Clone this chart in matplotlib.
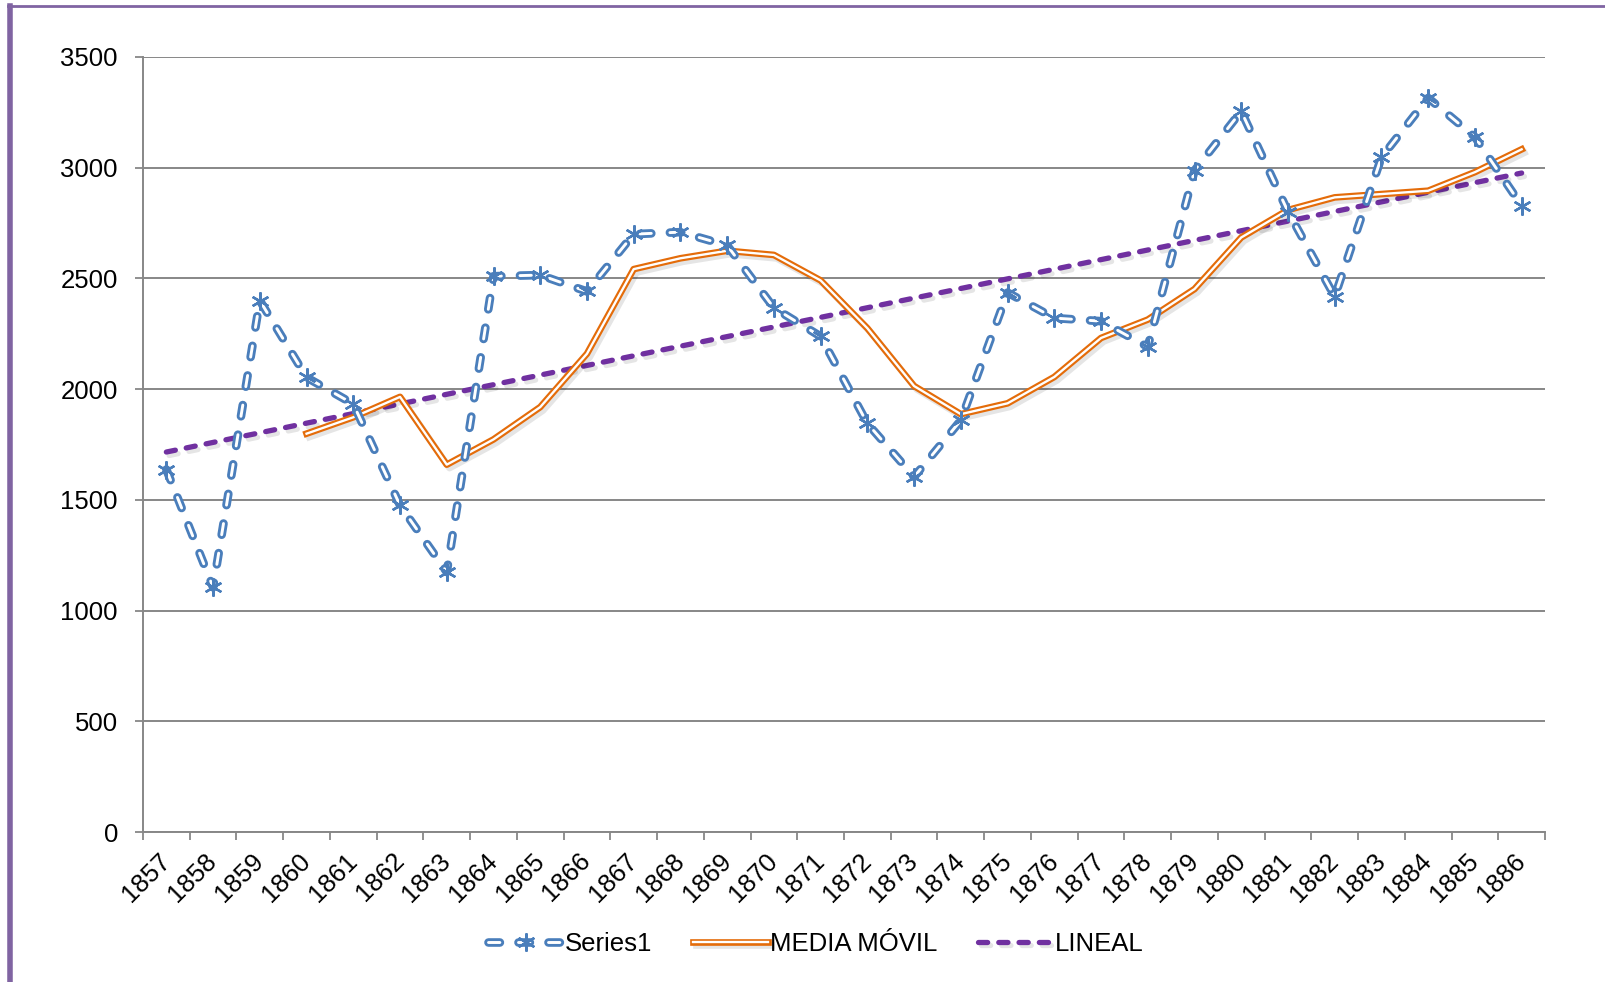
import matplotlib.pyplot as plt
import matplotlib.patheffects as pe
from matplotlib.legend_handler import HandlerTuple
from matplotlib.lines import Line2D

plt.rcParams["font.family"] = ["Liberation Sans", "DejaVu Sans"]
plt.rcParams["lines.scale_dashes"] = False

YEARS = [str(y) for y in range(1857, 1887)]

# values
SERIES1 = [1637, 1105, 2400, 2053, 1933, 1475, 1174, 2510, 2515, 2441,
           2700, 2709, 2649, 2367, 2238, 1845, 1604, 1859, 2436, 2321,
           2307, 2191, 2987, 3255, 2802, 2418, 3047, 3315, 3139, 2829]

# 4-period moving average, starts at 1860
MEDIA_MOVIL = [1799, 1873, 1965, 1659, 1773, 1919, 2160, 2542, 2591, 2625,
               2606, 2491, 2275, 2014, 1887, 1936, 2055, 2231, 2314, 2452,
               2685, 2809, 2866, 2881, 2896, 2980, 3083]

# linear trend end points (1857, 1886)
LINEAL = [1716, 2976]

BLUE = "#4A7EBB"
ORANGE = "#E46C0A"
PURPLE = "#7030A0"
GRID = "#878787"

W, H = 1606, 982
fig = plt.figure(figsize=(W / 100, H / 100), dpi=100)
ax = fig.add_axes([143 / W, 1 - 832 / H, (1545 - 143) / W, (832 - 57) / H])

x = list(range(len(YEARS)))
x_ma = x[3:]
x_tr = [x[0], x[-1]]

shadow = [pe.SimpleLineShadow(offset=(2, -2.5), shadow_color="k", alpha=0.1), pe.Normal()]

# linear trend
tr, = ax.plot(x_tr, LINEAL, color=PURPLE, lw=3.8, dashes=(6.6, 8),
              dash_capstyle="round", path_effects=shadow, zorder=3)

# moving average (double line)
ma_out, = ax.plot(x_ma, MEDIA_MOVIL, color=ORANGE, lw=4.8,
                  path_effects=shadow, zorder=4)
ma_in, = ax.plot(x_ma, MEDIA_MOVIL, color="white", lw=1.7, zorder=4.1)

# Series1 (dashed double line with star markers)
s_out, = ax.plot(x, SERIES1, color=BLUE, lw=6.2, dashes=(8.2, 13.4),
                 dash_capstyle="round", zorder=5)
s_in, = ax.plot(x, SERIES1, color="white", lw=2.1, dashes=(8.2, 13.4),
                dash_capstyle="round", zorder=5.1)
s_mk, = ax.plot(x, SERIES1, ls="none", marker=(6, 2, 0), ms=13, mew=1.7,
                color=BLUE, zorder=5.2)

ax.set_xlim(-0.5, len(YEARS) - 0.5)
ax.set_ylim(0, 3500)
ax.set_yticks(range(0, 3501, 500))
ax.set_xticks([i - 0.5 for i in range(len(YEARS) + 1)])
ax.set_xticklabels([])
ax.set_xticks(x, minor=True)
ax.set_xticklabels(YEARS, minor=True, rotation=45, ha="right", va="center",
                   rotation_mode="anchor", fontsize=18.5)
ax.tick_params(axis="x", which="minor", length=0, pad=18)
ax.tick_params(axis="x", which="major", length=6, width=1.3, color=GRID, direction="out")
ax.tick_params(axis="y", length=6, width=1.3, color=GRID, direction="out",
               labelsize=18.5, pad=12)

ax.grid(axis="y", color=GRID, lw=1.4)
ax.set_axisbelow(True)
for side in ("top", "right"):
    ax.spines[side].set_visible(False)
for side in ("left", "bottom"):
    ax.spines[side].set_color(GRID)
    ax.spines[side].set_linewidth(1.4)

leg = fig.legend([(s_out, s_in, s_mk), (ma_out, ma_in), tr],
                 ["Series1", "MEDIA MÓVIL", "LINEAL"],
                 handler_map={tuple: HandlerTuple(ndivide=1, pad=0)},
                 loc="center", bbox_to_anchor=(816 / W, 1 - 944 / H), ncol=3,
                 frameon=False, fontsize=18.5, handlelength=2.9,
                 handletextpad=0.08, columnspacing=1.6, numpoints=1)

# chart area border (only left and top visible)
fig.add_artist(Line2D([10 / W, 10 / W], [0, 1 - 6 / H], color="#8064A2", lw=4,
                      transform=fig.transFigure))
fig.add_artist(Line2D([8 / W, 1], [1 - 6 / H, 1 - 6 / H], color="#8064A2", lw=2,
                      transform=fig.transFigure))

fig.savefig("out.png", dpi=100)
